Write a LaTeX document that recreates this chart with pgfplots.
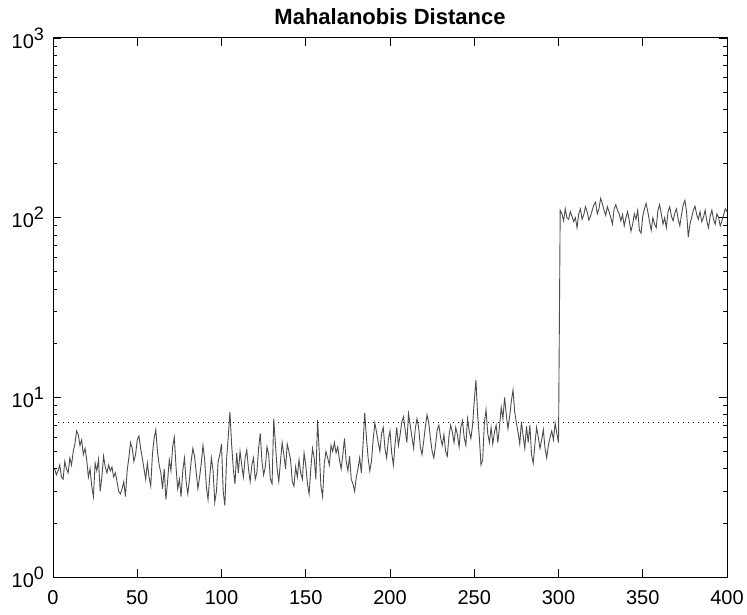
\documentclass[border=0pt]{standalone}
\usepackage{fontspec}
\setmainfont{Liberation Sans}
\usepackage{pgfplots}
\pgfplotsset{compat=1.18}
\usepackage{pgfplotstable}
\usetikzlibrary{calc}
\pgfplotstableread{
v
4.0
3.7
3.9
4.2
3.6
3.5
4.4
4.0
3.8
4.6
4.2
5.0
5.5
6.5
6.2
5.4
5.8
4.8
5.2
4.5
3.6
4.0
3.2
2.8
4.3
3.9
4.5
3.0
3.6
4.7
4.1
3.8
4.2
3.9
4.1
3.6
3.8
3.4
3.0
2.9
3.1
3.4
2.8
3.9
4.6
5.6
5.2
4.4
4.8
5.8
6.1
5.2
4.6
4.0
3.5
4.3
3.6
3.2
4.8
5.9
6.6
5.0
4.2
3.8
3.1
4.0
2.7
3.4
4.5
3.9
5.3
6.0
4.1
3.1
3.5
2.8
3.9
4.6
3.4
2.9
3.5
4.4
5.2
4.7
3.8
3.1
3.6
4.3
5.4
4.5
3.2
2.7
3.6
4.6
3.9
2.6
3.0
4.4
4.8
5.5
3.0
2.5
4.5
6.0
8.3
5.5
4.0
3.3
4.9
3.8
5.0
4.2
3.6
4.6
5.1
4.0
3.4
4.2
4.6
3.5
3.8
5.2
6.3
4.4
3.7
4.1
5.3
4.8
3.5
3.3
7.6
5.5
4.0
3.4
4.4
5.6
4.8
4.0
5.5
5.0
4.5
3.4
3.2
4.1
3.6
4.5
3.8
3.5
4.9
4.2
3.3
2.9
4.0
5.2
4.6
3.5
7.5
5.0
3.2
2.8
4.3
5.0
4.6
4.2
5.4
5.0
5.6
4.9
5.3
4.5
4.0
4.8
5.9
4.4
3.9
4.7
3.5
3.3
3.0
3.6
4.0
4.6
3.8
5.5
8.2
6.0
4.6
3.9
4.4
5.8
7.2
6.4
5.6
5.0
6.3
6.8
5.2
4.6
5.8
6.5
4.9
4.2
5.5
6.8
5.4
6.2
7.3
7.8
6.6
5.6
8.1
7.0
6.0
5.2
6.7
7.6
6.8
5.3
4.8
5.7
6.9
8.0
7.2
5.9
5.0
4.6
5.4
6.6
7.0
6.0
5.4
6.2
5.0
4.7
6.1
7.0
6.4
5.6
6.8
6.2
5.3
6.8
7.4
6.0
5.4
7.6
6.5
5.9
7.0
9.5
12.5
8.0
6.0
4.2
4.5
7.2
8.5
6.3
5.6
6.8
5.5
6.4
7.0
5.6
6.9
8.8
7.6
10.0
8.0
6.7
7.8
9.5
11.0
8.3
7.2
6.4
5.5
7.3
6.1
5.2
6.9
5.6
7.0
4.8
4.3
5.5
6.8
6.0
5.2
5.8
6.6
5.2
4.6
5.4
6.0
6.5
5.8
7.2
6.3
5.6
110
105
96
112
100
98
108
102
95
100
88
105
112
98
104
115
108
97
102
110
118
122
105
112
128
120
110
103
115
108
100
92
112
118
110
105
96
104
90
100
108
96
84
92
105
98
110
85
82
102
112
120
108
95
85
100
92
88
110
118
105
92
100
88
108
115
102
96
106
112
98
90
104
118
125
108
78
92
100
110
116
104
98
108
95
100
110
96
88
102
110
98
92
105
100
90
96
104
112
108
}\mdist
\begin{document}
\begin{tikzpicture}
\begin{axis}[
  name=ax,
  scale only axis,
  width=337pt, height=269.5pt,
  xmin=0, xmax=400,
  ymode=log, ymin=1, ymax=1000,
  xtick={0,50,...,400},
  ytick={1,10,100,1000},
  yticklabels={10\raisebox{0.75ex}{\small 0},10\raisebox{0.75ex}{\small 1},10\raisebox{0.75ex}{\small 2},10\raisebox{0.75ex}{\small 3}},
  /pgf/number format/assume math mode=true,
  tick label style={font=\fontsize{10}{12}\selectfont},
  xticklabel style={yshift=-3pt},
  yticklabel style={xshift=-1pt},
  tick align=inside,
  major tick length=4pt,
  minor tick length=2pt,
  axis line style={black, line width=0.5pt},
  every tick/.style={black, line width=0.4pt},
  title={\bfseries Mahalanobis Distance},
  title style={font=\fontsize{11}{13}\selectfont, yshift=-3pt},
  clip=true,
]
\addplot[black, dotted, line width=0.5pt] coordinates {(0,7.2) (400,7.2)};
\addplot[black!70, line width=0.45pt] table[x expr=\coordindex+1, y=v] {\mdist};
\end{axis}
\pgfresetboundingbox
\path ($(ax.south west)+(-26.5pt,-18.5pt)$) rectangle ($(ax.north east)+(10pt,19pt)$);
\end{tikzpicture}
\end{document}
